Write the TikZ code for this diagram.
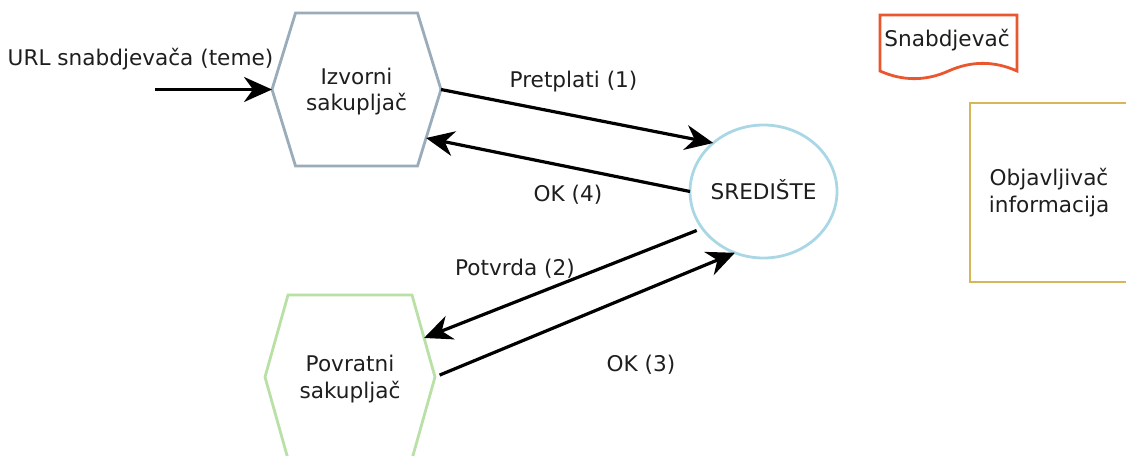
\documentclass[tikz,border=0pt]{standalone}
\usepackage{fontspec}
\setmainfont{DejaVu Sans}
\usetikzlibrary{shapes.geometric,arrows.meta,calc}

\definecolor{ink}{RGB}{30,30,30}
\definecolor{srcline}{RGB}{154,172,186}
\definecolor{retline}{RGB}{185,224,165}
\definecolor{hubline}{RGB}{170,215,230}
\definecolor{docline}{RGB}{234,86,46}
\definecolor{publine}{RGB}{214,182,86}

\begin{document}
\begin{tikzpicture}[x=1pt,y=-1pt,
  lbl/.style={font=\fontsize{21.6}{26.5}\selectfont, text=ink, inner sep=0pt, outer sep=0pt},
  shapeline/.style={line width=2.8pt},
  flow/.style={line width=3.2pt, draw=black, -{Stealth[length=28pt,width=25pt,inset=9pt]}},
  ]
  \path[use as bounding box] (0,0) rectangle (1126,455);
  \clip (0,0) rectangle (1126,455);

  % source collector (hexagon)
  \draw[shapeline, draw=srcline]
    (295.5,13) coordinate (src-tl) -- (417.5,13) coordinate (src-tr)
    -- (441,89.5) coordinate (src-r) -- (417.5,166) coordinate (src-br)
    -- (295.5,166) coordinate (src-bl) -- (272,89.5) coordinate (src-l) -- cycle;
  \node[lbl, align=center] (src) at (356.5,91.3) {Izvorni\\sakupljač};

  % return collector (hexagon, runs off the bottom)
  \draw[shapeline, draw=retline]
    (288,295) coordinate (ret-tl) -- (412,295) coordinate (ret-tr)
    -- (435,377) coordinate (ret-r) -- (412,459) coordinate (ret-br)
    -- (288,459) coordinate (ret-bl) -- (265,377) coordinate (ret-l) -- cycle;
  \node[lbl, align=center] (ret) at (350,379) {Povratni\\sakupljač};

  % hub
  \node[lbl, ellipse, shapeline, draw=hubline, minimum width=147pt,
        minimum height=133pt, inner xsep=-4pt, text height=15.7pt, text depth=0pt]
    (hub) at (763.5,191.5) {SREDIŠTE};

  % supplier (document shape)
  \draw[shapeline, draw=docline]
    (880,15) coordinate (doc-tl) -- (1017,15) -- (1017,71)
    .. controls (994.2,60.8) and (971.3,60.8) .. (948.5,71)
    .. controls (925.7,81.2) and (902.8,81.2) .. (880,71) -- cycle;
  \node[lbl, anchor=base] (supl) at (947,46) {Snabdjevač};

  % information publisher
  \node[lbl, align=center, shapeline, draw=publine, minimum width=158pt,
        minimum height=179pt] (pub) at (1049,192.5) {Objavljivač\\informacija};

  % connectors
  \coordinate (urlin) at (155,89.5);
  \coordinate (src-in4) at ($(src-r)!0.634!(src-br)$);
  \coordinate (ret-in2) at ($(ret-r)!0.476!(ret-tr)$);

  \draw[flow] (urlin) -- (src-l);
  \draw[flow] (src-r) -- (hub.136);
  \draw[flow] (hub.180) -- (src-in4);
  \draw[flow, shorten <=6pt] (hub.211) -- (ret-in2);
  \draw[flow, shorten <=5pt] (ret-r) -- (hub.245);

  % connector labels
  \node[lbl, anchor=base] (lurl) at (140.5,65) {URL snabdjevača (teme)};
  \node[lbl, anchor=base] (l1) at (573.5,87) {Pretplati (1)};
  \node[lbl, anchor=base] (l4) at (568,201) {OK (4)};
  \node[lbl, anchor=base] (l2) at (515,275) {Potvrda (2)};
  \node[lbl, anchor=base] (l3) at (641,371) {OK (3)};
\end{tikzpicture}
\end{document}
